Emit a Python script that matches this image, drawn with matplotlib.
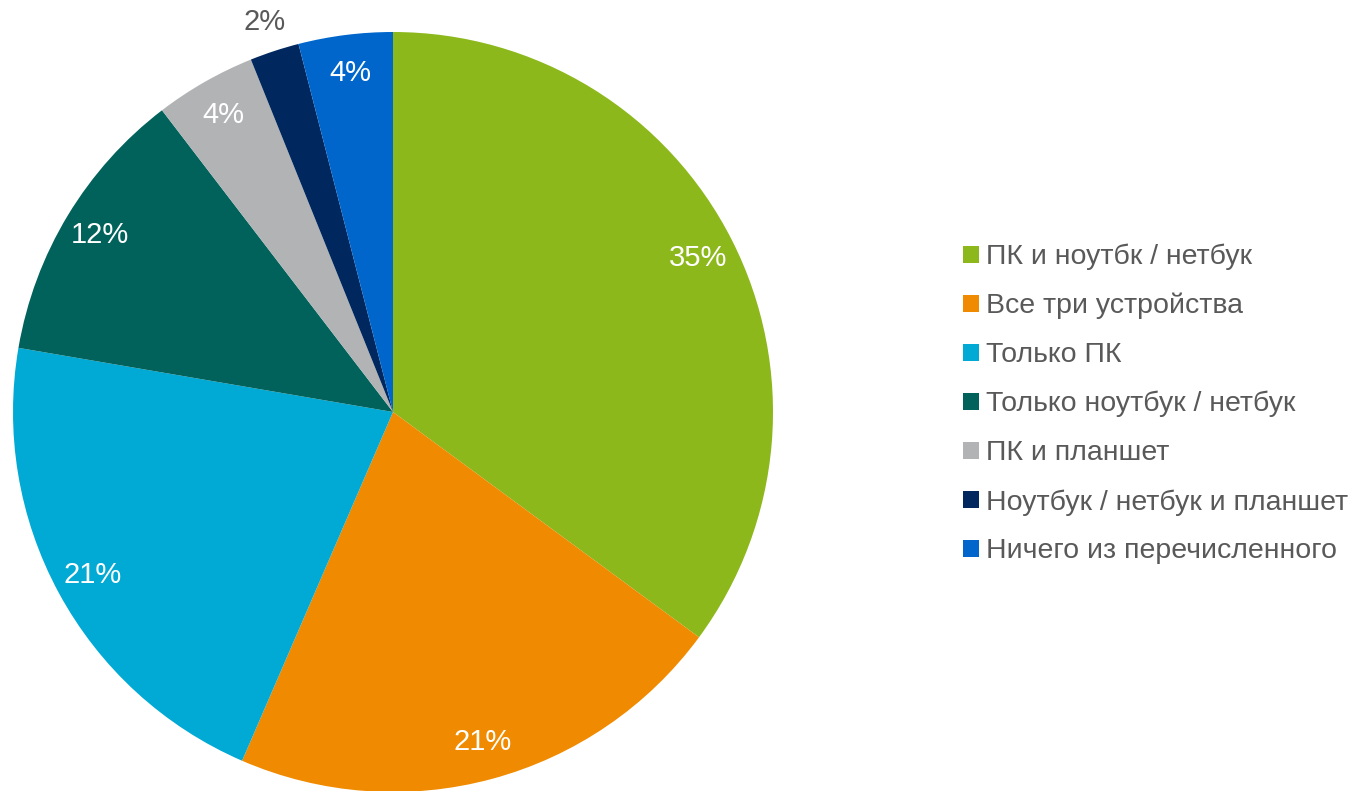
import numpy as np
import matplotlib.pyplot as plt

plt.rcParams['font.family'] = ['Liberation Sans', 'DejaVu Sans']

# доли устройств, %
categories = ['ПК и ноутбк / нетбук', 'Все три устройства', 'Только ПК',
              'Только ноутбук / нетбук', 'ПК и планшет',
              'Ноутбук / нетбук и планшет', 'Ничего из перечисленного']
values = [35.1, 21.4, 21.2, 11.9, 4.3, 2.1, 4.0]
colors = ['#8CB81B', '#F08A00', '#00AAD5', '#00625B', '#B2B3B5', '#00285E', '#0066CC']
text_gray = '#595959'

fig = plt.figure(figsize=(13.57, 7.91), dpi=100)
ax = fig.add_axes([13 / 1357, -1 / 791, 760 / 1357, 760 / 791])

wedges, texts, autotexts = ax.pie(values, colors=colors, startangle=90, counterclock=False,
                                  autopct='%.0f%%', pctdistance=0.9,
                                  textprops={'color': 'white', 'fontsize': 21})
ax.set_xlim(-1, 1)
ax.set_ylim(-1, 1)

# маленький сектор - подпись снаружи
w = wedges[5]
mid = np.deg2rad((w.theta1 + w.theta2) / 2)
autotexts[5].set_position((1.08 * np.cos(mid), 1.08 * np.sin(mid)))
autotexts[5].set_color(text_gray)

leg = fig.legend(wedges, categories, loc='center left', bbox_to_anchor=(963 / 1357, 1 - 404 / 791),
                 frameon=False, fontsize=20.5, handlelength=0.55, handleheight=0.55,
                 handletextpad=0.25, labelspacing=0.8, borderaxespad=0, borderpad=0)
for t in leg.get_texts():
    t.set_color(text_gray)

fig.savefig('out.png', dpi=100)
